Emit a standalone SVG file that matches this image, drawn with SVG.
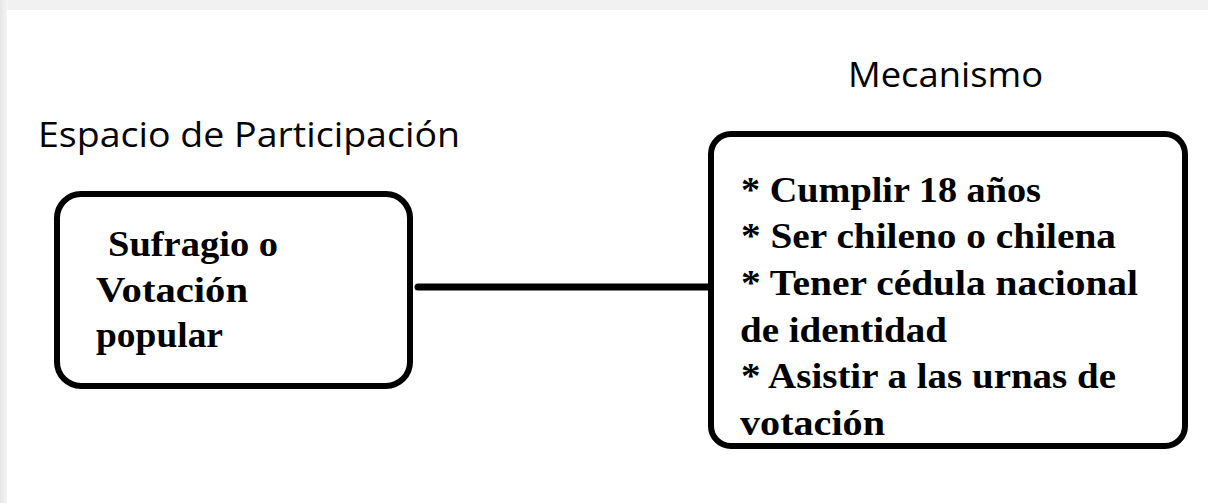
<svg xmlns="http://www.w3.org/2000/svg" width="1208" height="503" viewBox="0 0 1208 503">
  <defs>
    <linearGradient id="lg" x1="0" y1="0" x2="1" y2="0">
      <stop offset="0" stop-color="#e6e6e6"/>
      <stop offset="1" stop-color="#f6f6f6"/>
    </linearGradient>
    <style>
      .box { fill: #ffffff; stroke: #000000; stroke-width: 6; }
      .conn { stroke: #000000; stroke-width: 7; stroke-linecap: round; fill: none; }
      .title { font-family: "Open Sans", "Noto Sans", sans-serif; font-size: 34px; fill: #000000; }
      .body { font-family: "Liberation Serif", serif; font-weight: bold; font-size: 35px; fill: #000000; }
    </style>
  </defs>
  <rect x="0" y="0" width="1208" height="503" fill="#f1f1f1"/>
  <rect x="0" y="0" width="8" height="503" fill="url(#lg)"/>
  <rect x="7" y="10" width="1201" height="493" fill="#ffffff"/>

  <g id="label-mecanismo">
    <text class="title" x="848" y="87" textLength="195" lengthAdjust="spacingAndGlyphs">Mecanismo</text>
  </g>
  <g id="label-espacio">
    <text class="title" x="38" y="147" textLength="422" lengthAdjust="spacingAndGlyphs">Espacio de Participación</text>
  </g>

  <g id="connectors">
    <line class="conn" x1="418" y1="287" x2="711" y2="287"/>
  </g>

  <g id="node-sufragio">
    <rect class="box" x="57" y="194" width="353" height="192" rx="24" ry="24"/>
    <text class="body" x="108" y="256" textLength="170" lengthAdjust="spacingAndGlyphs">Sufragio o</text>
    <text class="body" x="96" y="302" textLength="152" lengthAdjust="spacingAndGlyphs">Votación</text>
    <text class="body" x="96" y="347" textLength="127" lengthAdjust="spacingAndGlyphs">popular</text>
  </g>

  <g id="node-mecanismo">
    <rect class="box" x="711" y="134" width="474" height="312" rx="20" ry="20"/>
    <text class="body" x="741" y="202" textLength="300" lengthAdjust="spacingAndGlyphs">* Cumplir 18 años</text>
    <text class="body" x="741" y="248" textLength="375" lengthAdjust="spacingAndGlyphs">* Ser chileno o chilena</text>
    <text class="body" x="741" y="295" textLength="397" lengthAdjust="spacingAndGlyphs">* Tener cédula nacional</text>
    <text class="body" x="740" y="342" textLength="207" lengthAdjust="spacingAndGlyphs">de identidad</text>
    <text class="body" x="741" y="388" textLength="375" lengthAdjust="spacingAndGlyphs">* Asistir a las urnas de</text>
    <text class="body" x="740" y="435" textLength="145" lengthAdjust="spacingAndGlyphs">votación</text>
  </g>
</svg>
